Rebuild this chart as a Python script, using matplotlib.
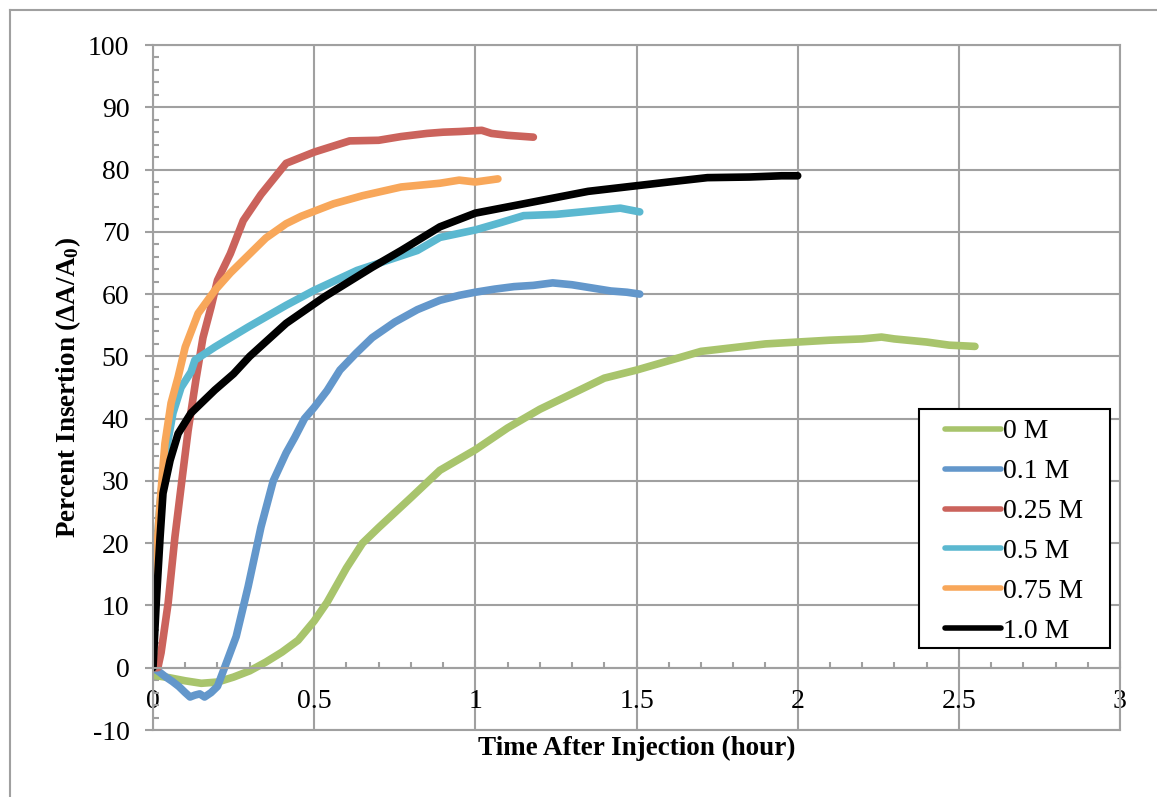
import matplotlib
matplotlib.use('Agg')
import matplotlib.pyplot as plt
from matplotlib.lines import Line2D
from matplotlib.patches import Rectangle
from matplotlib.ticker import MultipleLocator

# data (time in hours, percent insertion)
labels = ['0 M', '0.1 M', '0.25 M', '0.5 M', '0.75 M', '1.0 M']
colors = ['#A8C46C', '#6397CB', '#CB635C', '#5BB8D0', '#F8A75A', '#000000']

t_0 = [0, 0.05, 0.1, 0.15, 0.2, 0.25, 0.3, 0.35, 0.4, 0.45, 0.5, 0.54, 0.6, 0.65,
       0.7, 0.8, 0.89, 1.0, 1.1, 1.2, 1.3, 1.4, 1.5, 1.6, 1.7, 1.8, 1.9, 2.0,
       2.1, 2.2, 2.26, 2.3, 2.4, 2.47, 2.55]
v_0 = [-1.2, -1.6, -2.1, -2.5, -2.3, -1.5, -0.5, 0.9, 2.5, 4.4, 7.5, 10.5, 16, 20,
       22.5, 27.3, 31.7, 35, 38.5, 41.5, 44, 46.5, 47.8, 49.3, 50.8, 51.4, 52, 52.3,
       52.6, 52.8, 53.1, 52.8, 52.3, 51.8, 51.6]

t_01 = [0, 0.02, 0.04, 0.06, 0.08, 0.1, 0.115, 0.13, 0.145, 0.16, 0.18, 0.2, 0.227,
        0.258, 0.295, 0.335, 0.373, 0.413, 0.44, 0.47, 0.5, 0.54, 0.58, 0.63, 0.68,
        0.75, 0.82, 0.89, 0.95, 1.0, 1.06, 1.12, 1.18, 1.24, 1.3, 1.36, 1.42,
        1.47, 1.51]
v_01 = [0, -0.7, -1.5, -2.2, -3.0, -4.0, -4.7, -4.4, -4.2, -4.7, -4.0, -3.0, 0.7,
        5, 13, 22.6, 30, 34.5, 37, 40, 41.8, 44.5, 47.8, 50.5, 53, 55.5, 57.5, 59,
        59.8, 60.3, 60.8, 61.2, 61.4, 61.8, 61.5, 61, 60.5, 60.3, 60.0]

t_025 = [0, 0.015, 0.025, 0.047, 0.068, 0.087, 0.109, 0.133, 0.155, 0.18, 0.2,
         0.24, 0.28, 0.335, 0.413, 0.5, 0.61, 0.7, 0.77, 0.85, 0.9, 0.95, 1.02,
         1.05, 1.1, 1.18]
v_025 = [0, 0, 2.4, 10.4, 21, 29, 38.1, 46.2, 53, 57.9, 62.2, 66.5, 71.8, 76, 81,
         82.8, 84.6, 84.7, 85.3, 85.8, 86, 86.1, 86.3, 85.8, 85.5, 85.2]

t_05 = [0, 0.007, 0.022, 0.037, 0.062, 0.087, 0.118, 0.13, 0.192, 0.295, 0.413,
        0.5, 0.633, 0.75, 0.82, 0.89, 1.0, 1.08, 1.15, 1.25, 1.35, 1.45, 1.51]
v_05 = [0, 15.7, 26.4, 33.8, 40.9, 45, 47.5, 49.4, 51.5, 54.7, 58.2, 60.6, 63.8,
        65.8, 67, 69.1, 70.3, 71.5, 72.6, 72.8, 73.3, 73.8, 73.2]

t_075 = [0, 0.007, 0.022, 0.037, 0.056, 0.078, 0.1, 0.14, 0.192, 0.24, 0.295, 0.35,
         0.413, 0.46, 0.56, 0.65, 0.77, 0.89, 0.95, 1.0, 1.07]
v_075 = [0, 15, 26.5, 36, 42.5, 46.7, 51.5, 56.9, 60.6, 63.4, 66.2, 69, 71.3, 72.5,
         74.5, 75.8, 77.2, 77.8, 78.3, 78, 78.5]

t_10 = [0, 0.01, 0.022, 0.031, 0.053, 0.078, 0.118, 0.192, 0.25, 0.3, 0.413,
        0.53, 0.68, 0.77, 0.89, 1.0, 1.2, 1.35, 1.5, 1.6, 1.72, 1.85, 1.95, 2.0]
v_10 = [0, 10.4, 21, 28, 33.3, 37.6, 40.9, 44.6, 47.2, 50, 55.3, 59.5, 64.3, 67,
        70.8, 73, 75, 76.5, 77.4, 78, 78.7, 78.8, 79, 79]

series_t = [t_0, t_01, t_025, t_05, t_075, t_10]
series_v = [v_0, v_01, v_025, v_05, v_075, v_10]

plt.rcParams['font.family'] = ['Liberation Serif', 'DejaVu Serif']
plt.rcParams['axes.unicode_minus'] = False
plt.rcParams['mathtext.fontset'] = 'custom'
plt.rcParams['mathtext.rm'] = 'Liberation Serif:bold'
plt.rcParams['mathtext.bf'] = 'Liberation Serif:bold'
plt.rcParams['mathtext.it'] = 'Liberation Serif:bold:italic'

grey = '#A0A0A0'
W, H = 1157, 797
ax_l, ax_r, ax_t, ax_b = 153, 1120, 45, 730

fig = plt.figure(figsize=(W / 100, H / 100), dpi=100)
ax = fig.add_axes([ax_l / W, 1 - ax_b / H, (ax_r - ax_l) / W, (ax_b - ax_t) / H])

for t, v, c, lab in zip(series_t, series_v, colors, labels):
    ax.plot(t, v, color=c, lw=5.5, label=lab, solid_capstyle='round',
            solid_joinstyle='round')

ax.set_xlim(0, 3)
ax.set_ylim(-10, 100)
ax.xaxis.set_major_locator(MultipleLocator(0.5))
ax.xaxis.set_minor_locator(MultipleLocator(0.1))
ax.yaxis.set_major_locator(MultipleLocator(10))
ax.yaxis.set_minor_locator(MultipleLocator(2))
ax.set_xticks([0, 0.5, 1, 1.5, 2, 2.5, 3], ['0', '0.5', '1', '1.5', '2', '2.5', '3'])

ax.grid(True, which='major', color=grey, lw=1.5)
ax.set_axisbelow(True)

for s in ['top', 'right', 'left', 'bottom']:
    ax.spines[s].set_color(grey)
    ax.spines[s].set_linewidth(1.5)
ax.spines['bottom'].set_position(('data', 0))
ax.axhline(-10, color=grey, lw=1.5, clip_on=False, zorder=0.5)

ax.tick_params(axis='x', which='both', direction='in', color=grey, width=1.5,
               labelsize=20, pad=15)
ax.tick_params(axis='x', which='major', length=5)
ax.tick_params(axis='x', which='minor', length=4)
ax.tick_params(axis='y', which='major', direction='out', length=6, color=grey,
               width=1.5, labelsize=20, pad=11)
ax.tick_params(axis='y', which='minor', direction='in', length=4, color=grey,
               width=1.5)

ax.set_xlabel('Time After Injection (hour)', fontsize=19.5, fontweight='bold')
ax.xaxis.set_label_coords(0.5, -0.027)
ax.xaxis.label.set_va('center')
ax.set_ylabel('Percent Insertion (ΔA/A$_{0}$)', fontsize=19.5, fontweight='bold')
ax.yaxis.set_label_coords(-(ax_l - 68) / (ax_r - ax_l), 0.5)
ax.yaxis.label.set_va('center')

# legend box drawn separately so its padding matches the reference
ax.add_patch(Rectangle(((919 - ax_l) / (ax_r - ax_l), (ax_b - 648) / (ax_b - ax_t)),
                       (1110 - 919) / (ax_r - ax_l), (648 - 409) / (ax_b - ax_t),
                       transform=ax.transAxes, facecolor='white', edgecolor='black',
                       lw=1.5, zorder=4))
leg = ax.legend(loc='upper left',
                bbox_to_anchor=((945 - ax_l) / (ax_r - ax_l), (ax_b - 419) / (ax_b - ax_t)),
                borderaxespad=0, borderpad=0, fontsize=20, frameon=False,
                handlelength=2.0, handletextpad=0.1, labelspacing=0.52)
leg.set_zorder(5)
for ln in leg.get_lines():
    ln.set_linewidth(4)

# outer chart frame (top and left edges visible)
fig.add_artist(Line2D([10 / W, 1], [1 - 10 / H, 1 - 10 / H], color=grey, lw=1.5))
fig.add_artist(Line2D([10 / W, 10 / W], [0, 1 - 10 / H], color=grey, lw=1.5))

fig.savefig('out.png', dpi=100)
